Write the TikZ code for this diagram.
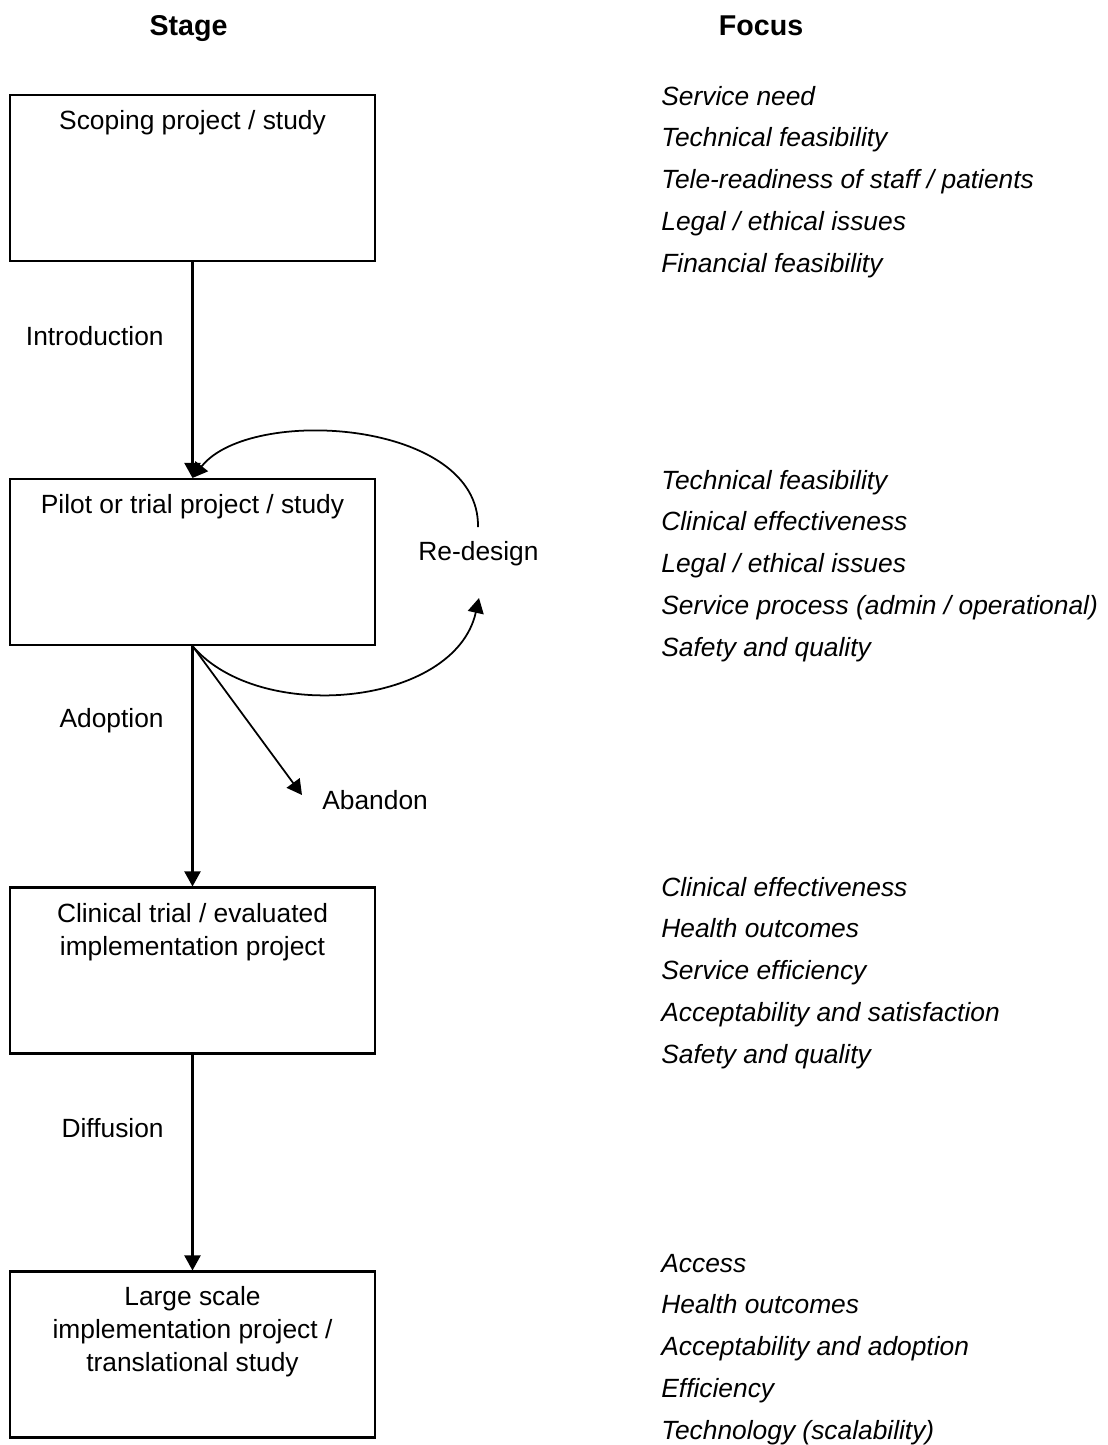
\documentclass[tikz,border=0pt]{standalone}
\usepackage{fontspec}
\setmainfont{Liberation Sans}
\usetikzlibrary{arrows.meta}

\tikzset{
  stagebox/.style={draw, line width=1.2pt, minimum width=7.31cm, minimum height=3.32cm, inner sep=0pt},
  boxtext/.style={anchor=base, align=center, inner sep=0pt, font=\fontsize{15}{19}\selectfont},
  focustext/.style={anchor=base west, align=left, inner sep=0pt, font=\fontsize{15}{23.76}\selectfont\itshape},
  steplabel/.style={inner sep=0pt, font=\fontsize{15}{18}\selectfont},
  heading/.style={anchor=base, inner sep=0pt, font=\fontsize{16.3}{20}\selectfont\bfseries},
  flow/.style={line width=1.2pt, -{Triangle[length=0.3cm, width=0.32cm]}}
}

\begin{document}
\begin{tikzpicture}[x=0.02cm, y=-0.02cm]

\useasboundingbox (0,0) rectangle (1108,1445);

% Headings
\node[heading] (stagehead) at (188.5,35) {Stage};
\node[heading] (focushead) at (761,35) {Focus};

% Stages
\node[stagebox] (scope) at (192.5,178) {};
\node[stagebox] (pilot) at (192.5,562) {};
\node[stagebox] (trial) at (192.5,970.5) {};
\node[stagebox] (large) at (192.5,1354.5) {};

% box texts (base = last line)
\node[boxtext] (scopetext) at (192.5,129) {Scoping project / study};
\node[boxtext] (pilottext) at (192.5,513) {Pilot or trial project / study};
\node[boxtext] (trialtext) at (192.5,955.4) {Clinical trial / evaluated\\implementation project};
\node[boxtext] (largetext) at (192.5,1371.8) {Large scale\\implementation project /\\translational study};

% Focus
\node[focustext] (scopefocus) at (661,272) {Service need\\Technical feasibility\\Tele-readiness of staff / patients\\Legal / ethical issues\\Financial feasibility};
\node[focustext] (pilotfocus) at (661,656) {Technical feasibility\\Clinical effectiveness\\Legal / ethical issues\\Service process (admin / operational)\\Safety and quality};
\node[focustext] (trialfocus) at (661,1063) {Clinical effectiveness\\Health outcomes\\Service efficiency\\Acceptability and satisfaction\\Safety and quality};
\node[focustext] (largefocus) at (661,1439) {Access\\Health outcomes\\Acceptability and adoption\\Efficiency\\Technology (scalability)};

% Transitions
\node[steplabel, anchor=base east] (introduction) at (164,345) {Introduction};
\node[steplabel, anchor=base east] (adoption) at (164,727) {Adoption};
\node[steplabel, anchor=base east] (diffusion) at (164,1137) {Diffusion};
\node[steplabel, anchor=base] (redesign) at (478.5,560) {Re-design};
\node[steplabel, anchor=base west] (abandon) at (322,809) {Abandon};

\coordinate (redesignout) at (478,527);
\coordinate (redesignin) at (479,598);
\coordinate (abandontip) at (302,795);

\draw[flow] (scope.south) -- (pilot.north);
\draw[flow] (pilot.south) -- (trial.north);
\draw[flow] (trial.south) -- (large.north);

% Re-design loop
\draw[flow, line width=1pt] (pilot.south) .. controls (260,725) and (455,706) .. (redesignin);
\draw[flow, line width=1pt] (redesignout) .. controls (480,420) and (250,405) .. (pilot.north);

% Abandon
\draw[flow, line width=1pt] (pilot.south) -- (abandontip);

\end{tikzpicture}
\end{document}
